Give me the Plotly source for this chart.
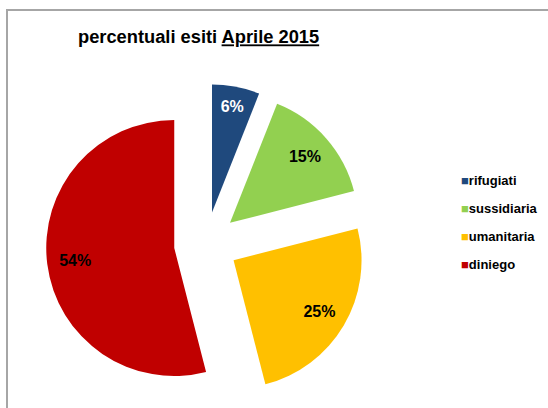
import plotly.graph_objects as go

labels = ["rifugiati", "sussidiaria", "umanitaria", "diniego"]
values = [6, 15, 25, 54]
colors = ["#1F497D", "#92D050", "#FFC000", "#C00000"]
text_colors = ["white", "black", "black", "black"]
title_main = "percentuali esiti "
title_under = "Aprile 2015"

W, H = 548, 408
FONT = "Liberation Sans, Arial, sans-serif"

# pie placement (pixels): centre and outer size of the exploded pie
dom = dict(x=[46 / W, 366 / W], y=[1 - 404 / H, 1 - 84 / H])
PULL = 0.25

fig = go.Figure()
# solid slices
fig.add_trace(go.Pie(
    labels=labels,
    values=values,
    sort=False,
    direction="clockwise",
    rotation=0,
    pull=[PULL] * len(values),
    marker=dict(colors=colors, line=dict(width=0)),
    textinfo="none",
    domain=dom,
    showlegend=False,
    hoverinfo="label+percent",
))
# transparent ring carrying the percentage labels (places them near the rim)
fig.add_trace(go.Pie(
    labels=labels,
    values=values,
    sort=False,
    direction="clockwise",
    rotation=0,
    hole=0.56,
    pull=[PULL] * len(values),
    marker=dict(colors=["rgba(0,0,0,0)"] * len(values), line=dict(width=0)),
    textinfo="percent",
    textposition="inside",
    insidetextorientation="horizontal",
    textfont=dict(family=FONT, size=16, color=text_colors, weight="bold"),
    domain=dom,
    showlegend=False,
    hoverinfo="skip",
))

# legend drawn as annotations built from the label/colour lists
annotations = []
for i, (lab, col) in enumerate(zip(labels, colors)):
    annotations.append(dict(
        x=459 / W, y=1 - (180 + 28.3 * i) / H, xref="paper", yref="paper",
        xanchor="left", yanchor="middle", showarrow=False,
        text=f'<span style="color:{col}">■</span><b>{lab}</b>',
        font=dict(family=FONT, size=13, color="black"),
    ))

fig.update_layout(
    width=W, height=H,
    margin=dict(l=0, r=0, t=0, b=0),
    paper_bgcolor="white",
    plot_bgcolor="white",
    title=dict(
        text=f"<b>{title_main}<u>{title_under}</u></b>",
        x=78 / W, xanchor="left", xref="paper",
        y=1 - 37 / H, yanchor="middle", yref="paper",
        font=dict(family=FONT, size=18.3, color="black"),
    ),
    annotations=annotations,
    shapes=[dict(type="rect", xref="paper", yref="paper",
                 x0=7 / W, x1=1.05, y0=-0.05, y1=1 - 10 / H,
                 line=dict(color="#A6A6A6", width=2), fillcolor="rgba(0,0,0,0)")],
)

fig.write_html("out.html", config={"displayModeBar": False},
               post_script="document.body.style.margin='0px';")
